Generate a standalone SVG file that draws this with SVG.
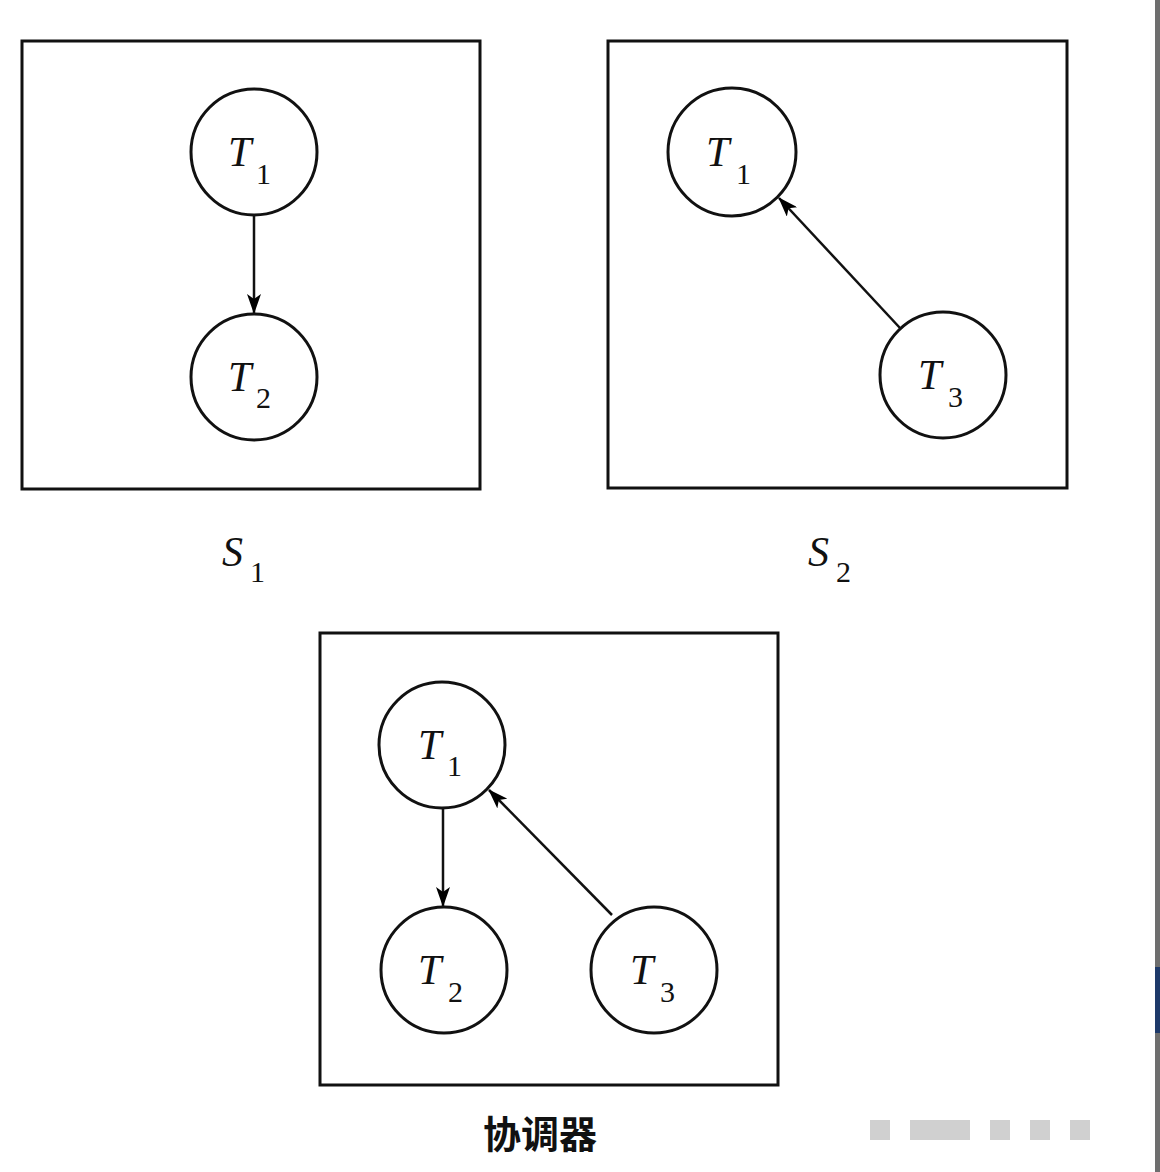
<svg xmlns="http://www.w3.org/2000/svg" width="1160" height="1172" viewBox="0 0 1160 1172">
<defs>
<marker id="ah" viewBox="0 0 20 14" refX="19" refY="7" markerWidth="20" markerHeight="14" markerUnits="userSpaceOnUse" orient="auto">
<path d="M0,0 L20,7 L0,14 L5,7 Z" fill="#000"/>
</marker>
<style>
.box{fill:none;stroke:#111;stroke-width:3}
.node{fill:#fff;stroke:#111;stroke-width:3}
.edge{stroke:#111;stroke-width:2.5;fill:none;marker-end:url(#ah)}
.t{font-family:"Liberation Serif","DejaVu Serif",serif;font-style:italic;font-size:42px;fill:#111}
.sub{font-family:"Liberation Serif","DejaVu Serif",serif;font-size:30px;fill:#111}
.cn{font-family:"Noto Sans CJK SC",sans-serif;font-weight:bold;font-size:38px;fill:#111}
</style>
</defs>
<rect width="1160" height="1172" fill="#fff"/>
<rect x="1155" y="0" width="5" height="1172" fill="#6e6e6e"/>
<rect x="1155" y="967" width="5" height="66" fill="#1e3a6a"/>
<g id="watermark" fill="#d0d0d0">
<rect x="870" y="1120" width="20" height="20"/>
<rect x="910" y="1120" width="60" height="20"/>
<rect x="990" y="1120" width="20" height="20"/>
<rect x="1030" y="1120" width="20" height="20"/>
<rect x="1070" y="1120" width="20" height="20"/>
</g>
<g id="frames">
<rect id="S1-box" class="box" x="22" y="41" width="458" height="448"/>
<rect id="S2-box" class="box" x="608" y="41" width="459" height="447"/>
<rect id="coord-box" class="box" x="320" y="633" width="458" height="452"/>
</g>
<g id="connectors">
<line class="edge" x1="254" y1="215" x2="254" y2="313"/>
<line class="edge" x1="900" y1="328" x2="779" y2="198"/>
<line class="edge" x1="443" y1="808" x2="443" y2="906"/>
<line class="edge" x1="612" y1="915" x2="489" y2="790"/>
</g>
<g id="s1-t1"><circle class="node" cx="254" cy="152" r="63"/><text class="t" x="228" y="166">T</text><text class="sub" x="256" y="184">1</text></g>
<g id="s1-t2"><circle class="node" cx="254" cy="377" r="63"/><text class="t" x="228" y="391">T</text><text class="sub" x="256" y="408">2</text></g>
<g id="s2-t1"><circle class="node" cx="732" cy="152" r="64"/><text class="t" x="706" y="166">T</text><text class="sub" x="736" y="184">1</text></g>
<g id="s2-t3"><circle class="node" cx="943" cy="375" r="63"/><text class="t" x="918" y="389">T</text><text class="sub" x="948" y="407">3</text></g>
<g id="c-t1"><circle class="node" cx="442" cy="745" r="63"/><text class="t" x="418" y="759">T</text><text class="sub" x="447" y="776">1</text></g>
<g id="c-t2"><circle class="node" cx="444" cy="970" r="63"/><text class="t" x="418" y="984">T</text><text class="sub" x="448" y="1002">2</text></g>
<g id="c-t3"><circle class="node" cx="654" cy="970" r="63"/><text class="t" x="630" y="984">T</text><text class="sub" x="660" y="1002">3</text></g>
<g id="labels">
<text class="t" x="222" y="566">S</text><text class="sub" x="250" y="582">1</text>
<text class="t" x="808" y="566">S</text><text class="sub" x="836" y="582">2</text>
<text class="cn" x="540" y="1148" text-anchor="middle">协调器</text>
</g>
</svg>
